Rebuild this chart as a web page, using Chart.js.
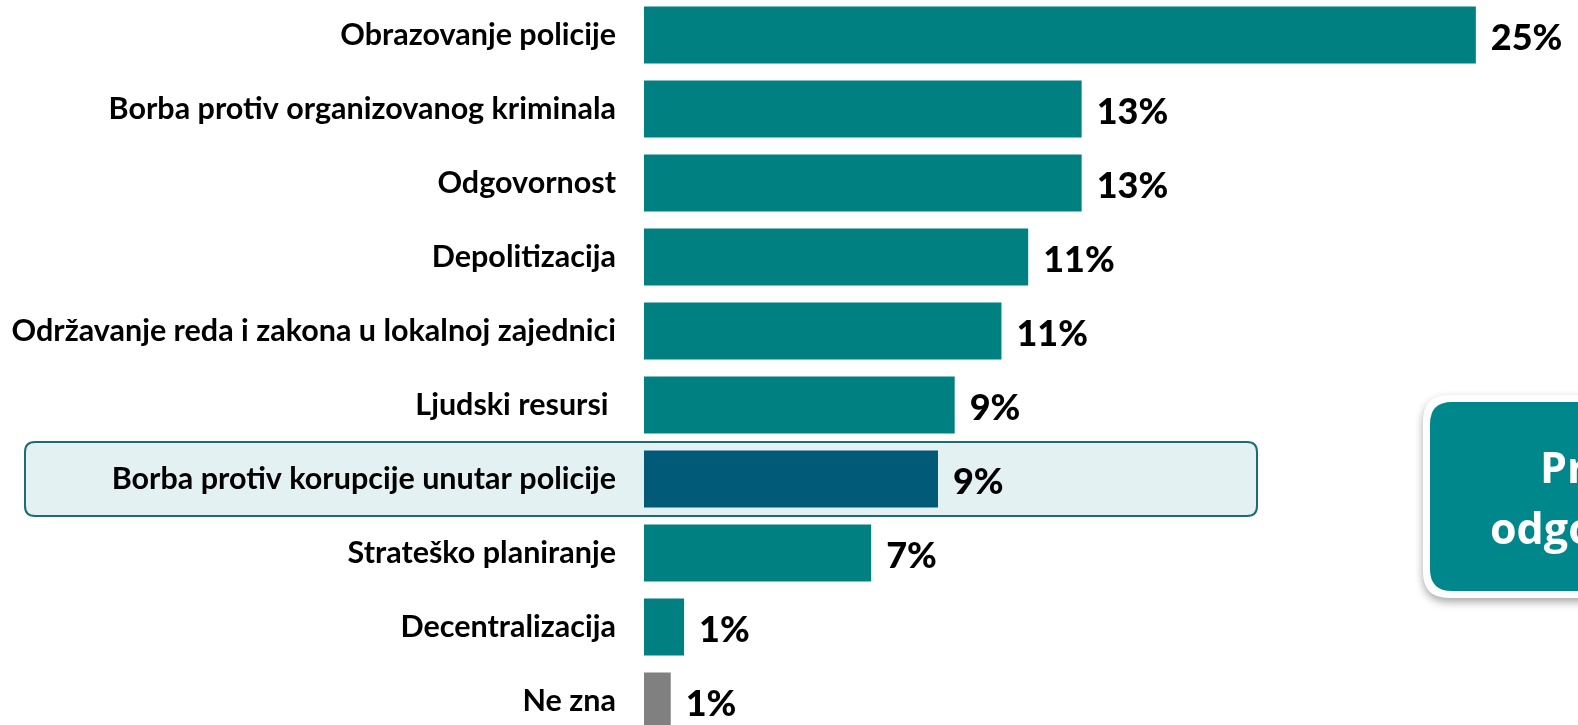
<!DOCTYPE html>
<html>
<head>
<meta charset="utf-8">
<script src="https://cdn.jsdelivr.net/npm/chart.js@4"></script>
<style>
  html, body { margin: 0; padding: 0; background: #fff; overflow: hidden; }
  #wrap { position: absolute; left: 0; top: -2px; width: 1578px; height: 740px; }
</style>
</head>
<body>
<div id="wrap"><canvas id="prioritetiChart"></canvas></div>
<script>
const kategorije = [
    'Obrazovanje policije',
    'Borba protiv organizovanog kriminala',
    'Odgovornost',
    'Depolitizacija',
    'Održavanje reda i zakona u lokalnoj zajednici',
    'Ljudski resursi ',
    'Borba protiv korupcije unutar policije',
    'Strateško planiranje',
    'Decentralizacija',
    'Ne zna'
];
const vrijednosti = [24.9, 13.1, 13.1, 11.5, 10.7, 9.3, 8.8, 6.8, 1.2, 0.8];
const oznake = ['25%', '13%', '13%', '11%', '11%', '9%', '9%', '7%', '1%', '1%'];
const boje = ['#008080', '#008080', '#008080', '#008080', '#008080', '#008080', '#005a78', '#008080', '#008080', '#808080'];
const istaknuto = 6;

const fontLabela = 'Lato, "DejaVu Sans", sans-serif';

function zaobljeni(ctx, x, y, w, h, r) {
    ctx.beginPath();
    ctx.moveTo(x + r, y);
    ctx.lineTo(x + w - r, y);
    ctx.quadraticCurveTo(x + w, y, x + w, y + r);
    ctx.lineTo(x + w, y + h - r);
    ctx.quadraticCurveTo(x + w, y + h, x + w - r, y + h);
    ctx.lineTo(x + r, y + h);
    ctx.quadraticCurveTo(x, y + h, x, y + h - r);
    ctx.lineTo(x, y + r);
    ctx.quadraticCurveTo(x, y, x + r, y);
    ctx.closePath();
}

// okvir oko istaknutog reda, iza svega ostalog
const okvirPlugin = {
    id: 'okvir',
    beforeDraw(chart) {
        const ctx = chart.ctx;
        const yScale = chart.scales.y;
        const cy = yScale.getPixelForValue(istaknuto);
        ctx.save();
        zaobljeni(ctx, 25, cy - 37, 1232, 74, 10);
        ctx.fillStyle = '#e3f1f2';
        ctx.fill();
        ctx.lineWidth = 2;
        ctx.strokeStyle = '#1d6b74';
        ctx.stroke();
        ctx.restore();
    }
};

// procenti na kraju stubica + kutija desno
const vrijednostiPlugin = {
    id: 'vrijednosti',
    afterDatasetsDraw(chart) {
        const ctx = chart.ctx;
        const meta = chart.getDatasetMeta(0);
        ctx.save();
        ctx.font = '900 36px ' + fontLabela;
        ctx.fillStyle = '#000';
        ctx.textBaseline = 'middle';
        ctx.textAlign = 'left';
        meta.data.forEach((bar, i) => {
            ctx.fillText(oznake[i], bar.x + 15, bar.y + 3);
        });
        ctx.restore();

        // kutija
        ctx.save();
        ctx.shadowColor = 'rgba(0,0,0,0.35)';
        ctx.shadowBlur = 8;
        ctx.shadowOffsetY = 4;
        zaobljeni(ctx, 1423, 397, 200, 203, 26);
        ctx.fillStyle = '#ffffff';
        ctx.fill();
        ctx.restore();
        ctx.save();
        zaobljeni(ctx, 1430, 404, 190, 189, 22);
        ctx.fillStyle = '#00878c';
        ctx.fill();
        ctx.fillStyle = '#ffffff';
        ctx.font = 'bold 43px "Open Sans", sans-serif';
        ctx.textBaseline = 'alphabetic';
        ctx.fillText('Prioriteti', 1540, 485);
        ctx.fillText('odgovora', 1490, 546);
        ctx.restore();
    }
};

new Chart(document.getElementById('prioritetiChart'), {
    type: 'bar',
    data: {
        labels: kategorije,
        datasets: [{
            data: vrijednosti,
            backgroundColor: boje,
            barPercentage: 0.77,
            categoryPercentage: 1.0
        }]
    },
    options: {
        indexAxis: 'y',
        responsive: true,
        maintainAspectRatio: false,
        animation: false,
        layout: { padding: { left: 0, right: 32, top: 0, bottom: 0 } },
        plugins: {
            legend: { display: false },
            tooltip: { enabled: false }
        },
        scales: {
            x: {
                display: false,
                min: 0,
                max: 27
            },
            y: {
                grid: { display: false, drawTicks: false },
                border: { display: false },
                ticks: {
                    color: '#000',
                    padding: 28,
                    font: { family: fontLabela, size: 30.5, weight: 'bold' }
                },
                afterFit(scale) {
                    scale.width = 644;
                    scale.paddingTop = 0;
                    scale.paddingBottom = 0;
                }
            }
        }
    },
    plugins: [okvirPlugin, vrijednostiPlugin]
});
</script>
</body>
</html>
